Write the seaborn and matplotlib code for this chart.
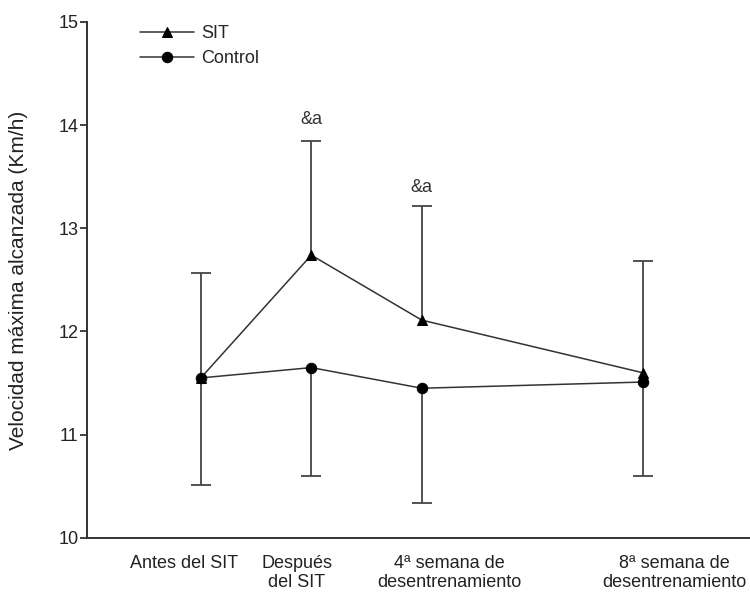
import matplotlib
matplotlib.use("Agg")
import matplotlib.pyplot as plt
import seaborn as sns
import pandas as pd

# time points (numeric position on the x scale) and labels
x_pos = [0, 1, 2, 4]
labels = ["Antes del SIT", "Después\ndel SIT", "4ª semana de\ndesentrenamiento", "8ª semana de\ndesentrenamiento"]
label_pos = [-0.15, 0.87, 2.25, 4.29]

sit_mean = [11.55, 12.74, 12.11, 11.60]
sit_sd = [1.02, 1.11, 1.11, 1.08]
control_mean = [11.55, 11.65, 11.45, 11.51]
control_sd = [1.04, 1.05, 1.11, 0.91]

marks = ["", "&a", "&a", ""]
mark_y = [0, 14.05, 13.40, 0]

sns.set_style("ticks")
plt.rcParams["font.family"] = ["Liberation Sans", "DejaVu Sans"]

df = pd.DataFrame({
    "x": x_pos * 2,
    "v": sit_mean + control_mean,
    "grupo": ["SIT"] * 4 + ["Control"] * 4,
})

fig = plt.figure(figsize=(7.5, 5.93), dpi=100)
ax = fig.add_axes([0.116, 0.093, 0.884, 0.87])

# error bars: upper for SIT, lower for Control (only the far cap kept)
eb = ax.errorbar(x_pos, sit_mean, yerr=[[0] * 4, sit_sd], fmt="none",
                 ecolor="#444444", elinewidth=1.3, capsize=7, capthick=1.3, zorder=1)
eb[1][0].set_visible(False)
eb = ax.errorbar(x_pos, control_mean, yerr=[control_sd, [0] * 4], fmt="none",
                 ecolor="#444444", elinewidth=1.3, capsize=7, capthick=1.3, zorder=1)
eb[1][1].set_visible(False)

sns.lineplot(data=df, x="x", y="v", hue="grupo", style="grupo",
             markers={"SIT": "^", "Control": "o"}, dashes=False,
             palette={"SIT": "#333333", "Control": "#333333"},
             linewidth=1.1, markersize=7.5, markeredgecolor="black",
             markerfacecolor="black", ax=ax, zorder=3)

for xp, m, yy in zip(x_pos, marks, mark_y):
    if m:
        ax.text(xp, yy, m, ha="center", va="center", fontsize=13, color="#333333")

ax.set_xlim(-1.03, 4.97)
ax.set_ylim(10, 15)
ax.set_yticks([10, 11, 12, 13, 14, 15])
ax.set_xticks(label_pos)
ax.set_xticklabels(labels, fontsize=13, color="#222222")
ax.tick_params(axis="x", length=0, pad=12)
ax.tick_params(axis="y", length=5, width=1.2, labelsize=13, colors="#222222", pad=1)
ax.set_xlabel("")
ax.set_ylabel("Velocidad máxima alcanzada (Km/h)", fontsize=15, color="#222222", labelpad=22)

for side in ["top", "right"]:
    ax.spines[side].set_visible(False)
for side in ["left", "bottom"]:
    ax.spines[side].set_linewidth(1.4)
    ax.spines[side].set_color("#333333")

handles, lbls = ax.get_legend_handles_labels()
ax.legend(handles, lbls, loc="upper left", bbox_to_anchor=(0.055, 1.025), frameon=False,
          fontsize=13, handlelength=3, labelspacing=0.45, handletextpad=0.4)

fig.savefig("out.png", dpi=100)
